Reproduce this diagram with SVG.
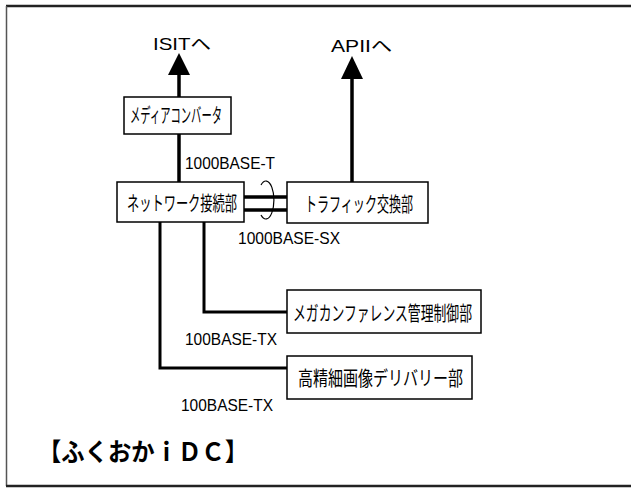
<svg xmlns="http://www.w3.org/2000/svg" width="631" height="495" viewBox="0 0 631 495">
<style>
.box{fill:#fff;stroke:#000;stroke-width:1.5}
.lbl{font-family:"Liberation Sans","Noto Sans CJK JP",sans-serif;font-size:20px;fill:#000}
.net{font-family:"Liberation Sans","Noto Sans CJK JP",sans-serif;font-size:17px;fill:#000}
.ln{fill:none;stroke:#000;stroke-width:3.5}
.ln2{fill:none;stroke:#000;stroke-width:3}
</style>
<rect width="631" height="495" fill="#fff"/>
<g id="frame">
<line x1="6" y1="6" x2="631" y2="6" stroke="#222" stroke-width="2.5"/>
<line x1="6.5" y1="6" x2="6.5" y2="486" stroke="#555" stroke-width="1.5"/>
<line x1="6" y1="486" x2="631" y2="486" stroke="#222" stroke-width="2.5"/>
</g>
<g id="connectors">
<line class="ln" x1="179" y1="97" x2="179" y2="74"/>
<polygon points="179,53 168,75 190,75" fill="#000"/>
<line class="ln" x1="179" y1="134" x2="179" y2="182"/>
<line class="ln" x1="352" y1="182" x2="352" y2="77"/>
<polygon points="352,56 341,79 363,79" fill="#000"/>
<line class="ln" x1="244" y1="197" x2="287" y2="197"/>
<line class="ln" x1="244" y1="210" x2="287" y2="210"/>
<path d="M261,185 A8,19 0 1 1 261,215" fill="none" stroke="#000" stroke-width="1.2"/>
<polyline class="ln2" points="204,222 204,312 288,312"/>
<polyline class="ln2" points="160,222 160,368 288,368"/>
</g>
<g id="labels">
<text class="net" x="153" y="50" textLength="58" lengthAdjust="spacingAndGlyphs" font-size="20">ISITへ</text>
<text class="net" x="331" y="52" textLength="61" lengthAdjust="spacingAndGlyphs" font-size="20">APIIへ</text>
<text class="net" x="185" y="169" textLength="90" lengthAdjust="spacingAndGlyphs">1000BASE-T</text>
<text class="net" x="238" y="244" textLength="102" lengthAdjust="spacingAndGlyphs">1000BASE-SX</text>
<text class="net" x="185" y="345" textLength="92" lengthAdjust="spacingAndGlyphs">100BASE-TX</text>
<text class="net" x="181" y="411" textLength="92" lengthAdjust="spacingAndGlyphs">100BASE-TX</text>
</g>
<g id="media-converter">
<rect class="box" x="124" y="97" width="107" height="37"/>
<text class="lbl" x="130" y="123" textLength="92" lengthAdjust="spacingAndGlyphs">メディアコンバータ</text>
</g>
<g id="network-connection">
<rect class="box" x="117" y="182" width="127" height="40"/>
<text class="lbl" x="127" y="211" textLength="110" lengthAdjust="spacingAndGlyphs">ネットワーク接続部</text>
</g>
<g id="traffic-exchange">
<rect class="box" x="287" y="182" width="141" height="41"/>
<text class="lbl" x="305" y="212" textLength="108" lengthAdjust="spacingAndGlyphs">トラフィック交換部</text>
</g>
<g id="mega-conference">
<rect class="box" x="287" y="290" width="194" height="43"/>
<text class="lbl" x="293" y="321" textLength="179" lengthAdjust="spacingAndGlyphs">メガカンファレンス管理制御部</text>
</g>
<g id="hd-delivery">
<rect class="box" x="287" y="356" width="185" height="43"/>
<text class="lbl" x="298" y="386" textLength="165" lengthAdjust="spacingAndGlyphs" font-size="21">高精細画像デリバリー部</text>
</g>
<g id="title">
<text x="38" y="461" font-family="'Noto Sans CJK JP',sans-serif" font-weight="bold" font-size="25" textLength="210" lengthAdjust="spacingAndGlyphs">【ふくおかｉＤＣ】</text>
</g>
</svg>
